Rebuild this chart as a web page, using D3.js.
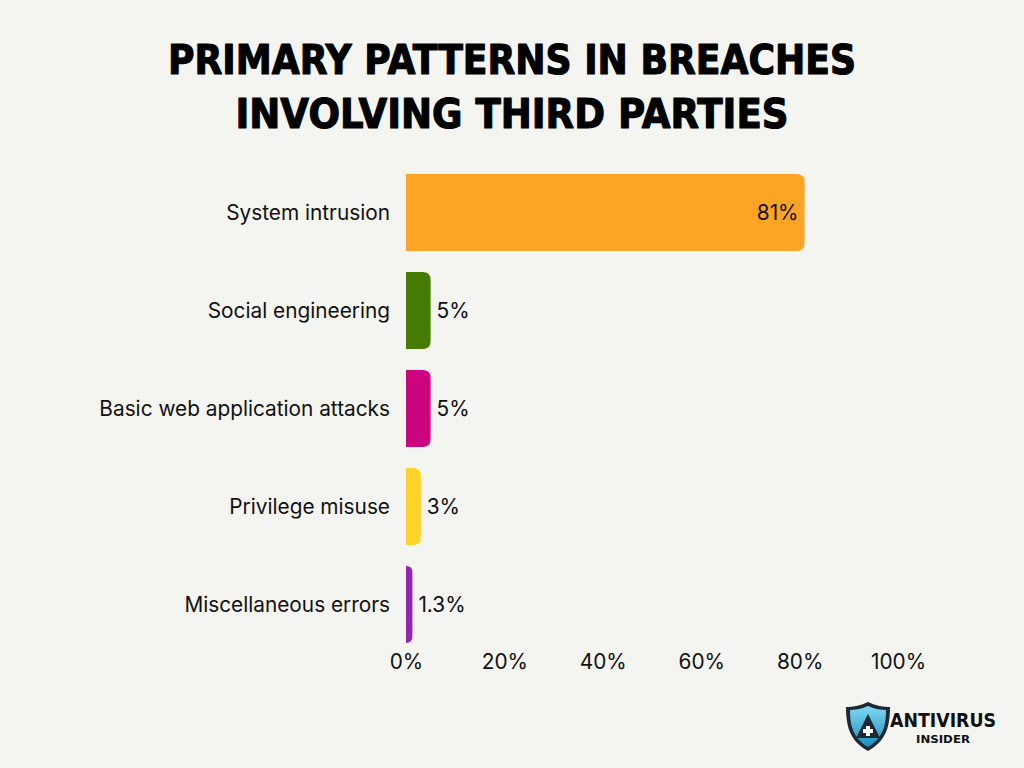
<!DOCTYPE html>
<html>
<head>
<meta charset="utf-8">
<script src="https://cdn.jsdelivr.net/npm/d3@7"></script>
<style>
  html, body { margin: 0; padding: 0; background: #F4F4F0; }
  svg { display: block; }
</style>
</head>
<body>
<svg id="chart" width="1024" height="768"></svg>
<script>
const categories = ["System intrusion", "Social engineering", "Basic web application attacks", "Privilege misuse", "Miscellaneous errors"];
const values = [81, 5, 5, 3, 1.3];
const valueLabels = ["81%", "5%", "5%", "3%", "1.3%"];
const colors = ["#FCA425", "#457B00", "#CC0480", "#FDD22B", "#9325B1"];
const tickValues = [0, 20, 40, 60, 80, 100];
const titleLines = ["PRIMARY PATTERNS IN BREACHES", "INVOLVING THIRD PARTIES"];

const svg = d3.select("#chart");
svg.append("rect").attr("width", 1024).attr("height", 768).attr("fill", "#F4F4F0");

// Title
const title = svg.append("g");
const titleWidths = [688, 553];
titleLines.forEach((t, i) => {
  title.append("text")
    .attr("x", 512).attr("y", 74 + i * 54)
    .attr("text-anchor", "middle")
    .attr("font-family", "DejaVu Sans")
    .attr("font-weight", "bold")
    .attr("font-size", 41)
    .attr("fill", "#000")
    .attr("stroke", "#000")
    .attr("stroke-width", 1.2)
    .attr("stroke-linejoin", "round")
    .attr("textLength", titleWidths[i])
    .attr("lengthAdjust", "spacingAndGlyphs")
    .text(t);
});

const x = d3.scaleLinear().domain([0, 100]).range([406, 898]);
const y = d3.scaleBand().domain(categories).range([163.5, 653.5]).paddingInner(0.215).paddingOuter(0.107);

const r = 8;
function barPath(x0, x1, y0, h) {
  const w = x1 - x0;
  const rr = Math.min(r, w, h / 2);
  return `M${x0},${y0} H${x1 - rr} Q${x1},${y0} ${x1},${y0 + rr} V${y0 + h - rr} Q${x1},${y0 + h} ${x1 - rr},${y0 + h} H${x0} Z`;
}

const g = svg.append("g");
g.selectAll("path.bar").data(categories).join("path")
  .attr("class", "bar")
  .attr("d", (c, i) => barPath(x(0), x(values[i]), y(c), y.bandwidth()))
  .attr("fill", (c, i) => colors[i]);

const fs = 20.8;
// category labels
g.selectAll("text.cat").data(categories).join("text")
  .attr("class", "cat")
  .attr("x", 390)
  .attr("y", c => y(c) + y.bandwidth() / 2)
  .attr("dy", "0.35em")
  .attr("text-anchor", "end")
  .attr("font-family", "Inter")
  .attr("font-size", fs)
  .attr("fill", "#111")
  .text(c => c);

// value labels
g.selectAll("text.val").data(categories).join("text")
  .attr("class", "val")
  .attr("x", (c, i) => values[i] > 20 ? x(values[i]) - 6 : x(values[i]) + 6)
  .attr("y", c => y(c) + y.bandwidth() / 2)
  .attr("dy", "0.35em")
  .attr("text-anchor", (c, i) => values[i] > 20 ? "end" : "start")
  .attr("font-family", "Inter")
  .attr("font-size", fs)
  .attr("fill", "#111")
  .text((c, i) => valueLabels[i]);

// x axis
const axis = svg.append("g")
  .attr("transform", "translate(0,645)")
  .call(d3.axisBottom(x).tickValues(tickValues).tickFormat(d => d + "%").tickSize(0).tickPadding(9));
axis.select(".domain").remove();
axis.selectAll("text")
  .attr("font-family", "Inter")
  .attr("font-size", fs)
  .attr("fill", "#111");

// Logo
const logo = svg.append("g").attr("transform", "translate(846,702)");
const grad = svg.append("defs").append("linearGradient").attr("id", "sg").attr("x1", 0).attr("y1", 0).attr("x2", 0).attr("y2", 1);
grad.append("stop").attr("offset", "0%").attr("stop-color", "#7FD6F2");
grad.append("stop").attr("offset", "100%").attr("stop-color", "#1B8FC0");
logo.append("path")
  .attr("d", "M22,0 C30,4 38,5 44,5 C44,28 38,40 22,49 C6,40 0,28 0,5 C6,5 14,4 22,0 Z")
  .attr("fill", "#1a2a33");
logo.append("path")
  .attr("d", "M22,4 C29,7 35,8 40,8 C40,27 35,37 22,45 C9,37 4,27 4,8 C9,8 15,7 22,4 Z")
  .attr("fill", "url(#sg)");
logo.append("path")
  .attr("d", "M22,12 L34,36 H10 Z")
  .attr("fill", "#1a2a33");
logo.append("path")
  .attr("d", "M20,24 h4 v3 h3 v4 h-3 v3 h-4 v-3 h-3 v-4 h3 Z")
  .attr("fill", "#ffffff");
logo.append("text")
  .attr("x", 44).attr("y", 25)
  .attr("font-family", "DejaVu Sans Condensed, DejaVu Sans")
  .attr("font-weight", "bold")
  .attr("font-size", 19)
  .attr("textLength", 106).attr("lengthAdjust", "spacingAndGlyphs")
  .attr("fill", "#111")
  .text("ANTIVIRUS");
logo.append("text")
  .attr("x", 70).attr("y", 41)
  .attr("font-family", "DejaVu Sans Condensed, DejaVu Sans")
  .attr("font-weight", "bold")
  .attr("font-size", 11)
  .attr("textLength", 54).attr("lengthAdjust", "spacingAndGlyphs")
  .attr("fill", "#111")
  .text("INSIDER");
</script>
</body>
</html>
